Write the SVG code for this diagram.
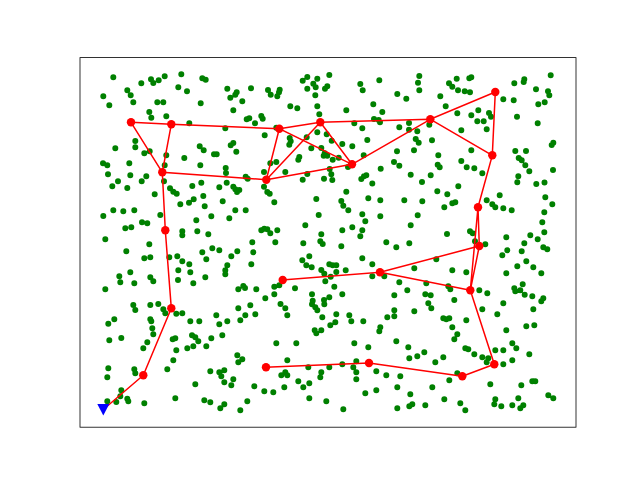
<svg xmlns="http://www.w3.org/2000/svg" width="640" height="480" viewBox="0 0 640 480">
<style>
.dots{fill:none;stroke:#008000;stroke-width:6;stroke-linecap:round}
.edge{fill:none;stroke:#ff0000;stroke-width:1.5;stroke-linecap:square;stroke-linejoin:round}
.node{fill:#ff0000}
</style>
<rect x="0" y="0" width="640" height="480" fill="#ffffff"/>
<g id="scatter">
<path class="dots" d="M113.3 77.3h0M141.3 83.3h0M151 79.3h0M153.3 83h0M158.7 80.3h0M164.7 76.3h0M181.3 74.3h0M202.3 78.3h0M205.7 79.7h0M178.3 87.3h0M187 91.3h0M127.3 90.3h0M130.7 95.3h0M133.3 102.3h0M103.3 96.3h0M109.3 105.3h0M157.3 102.3h0M163.3 102.3h0M200.7 103.3h0M149.3 112h0M151.3 117.7h0M166.3 116.3h0M189.3 123.3h0M227.3 88.7h0M236.7 92.3h0M235.3 94.7h0M230.3 97.7h0M242.3 101.3h0M233.3 110.3h0M225.3 128.3h0M135.3 141h0M135.3 147.3h0M115.3 148.3h0M144.3 153.3h0M149.7 151.3h0M166.3 155.3h0M184.3 158h0M199.7 146.3h0M203.7 150.3h0M214 154.3h0M216.7 154.3h0M230.7 145.3h0M233.3 143h0M236.3 151.7h0M103 163.3h0M107.3 165.3h0M129.3 163.3h0M164.7 165.3h0M200.3 165.3h0M225.7 168h0M226 173h0M108 174.3h0M130.3 175.3h0M146.3 176.3h0M118 181.3h0M141.7 181.3h0M164 181.3h0M201.3 182.7h0M226.7 182.7h0M245.7 176.7h0M247.7 178.7h0M246.7 119.3h0"/>
<path class="dots" d="M329.3 75h0M307.3 77h0M302.7 80.7h0M313.3 83.7h0M315.7 87.3h0M307.3 88.7h0M327.3 86.3h0M325 88.7h0M317.3 78.7h0M360.3 84h0M362.7 90.3h0M379.3 80.3h0M251 88.3h0M268 90h0M270.7 94.7h0M277.3 96.3h0M279.7 89.7h0M279 92.3h0M315.3 95.3h0M397.3 94h0M406.3 98.7h0M290.3 106.3h0M297.3 108.3h0M317.3 106.3h0M319.3 114.3h0M346.3 110.3h0M373.3 104.3h0M382.3 112h0M249.3 118.3h0M255 123.3h0M261.3 116h0M262.7 118.7h0M354.3 123.3h0M362.3 128.3h0M374 119h0M378.7 120h0M380 122.3h0M399.3 127.3h0M409 123h0M409 129.7h0M276.3 127.7h0M264.7 135.3h0M289.7 138h0M290.7 141.3h0M289.3 144.7h0M306.7 137.3h0M317.3 132.3h0M326.7 134.3h0M331.7 140.7h0M321.3 148h0M367.3 140h0M352.3 146.3h0M342.3 144h0M311.3 148.3h0M324.7 153.3h0M323.7 155.7h0M327.3 155.7h0M332.7 159.7h0M338.7 157.7h0M299.3 157h0M298.3 159.7h0M270.3 163.3h0M276.3 162h0M363.7 155.3h0M348 167h0M397 151.3h0M394 162h0M399.3 165.7h0M380.7 168.7h0M285.3 172h0M264 172h0M307.3 174h0M302.7 179.7h0M324 178.7h0M329.7 169h0M331.3 174.3h0M332.3 180h0M361.3 179h0M364 176.3h0M366.3 175.3h0M372.3 183.5h0M410.7 174.7h0"/>
<path class="dots" d="M419.3 76h0M418 82.7h0M419.3 90.3h0M456.7 78.7h0M469.3 78.3h0M471.3 77.3h0M449 83.3h0M452.3 86.7h0M458 90.3h0M464.7 91.3h0M470 92.3h0M440.3 96.3h0M445.7 106.3h0M457.3 113.3h0M471.3 115.3h0M478.3 110.3h0M477.3 121.3h0M483.7 121.3h0M489 113h0M491 116.7h0M486.7 129.3h0M461.3 130.3h0M429.3 124.7h0M417.3 131.3h0M432 140.3h0M415.7 139h0M418.7 142.7h0M414 150.3h0M438.3 155.3h0M461.3 161h0M437.7 164.7h0M439.7 167.3h0M466.7 167.3h0M474.3 168.3h0M482.3 173.3h0M430.7 175.3h0M422 182h0M471.3 150.3h0M503.3 99.3h0M513.7 100.3h0M514.3 83.3h0M524.3 79.3h0M523.7 82h0M550.7 75.3h0M536 89.3h0M548 91.3h0M549.3 95.3h0M544.7 102.3h0M538.3 104.3h0M517 116.7h0M537.7 123.3h0M553.3 142.7h0M551.7 145h0M515.3 151h0M526 151h0M518.7 158h0M521.7 160.3h0M525.3 165.3h0M529.3 171.3h0M518.3 176.3h0M553 170h0M536.3 184h0M544.5 182.5h0"/>
<path class="dots" d="M112.3 186.3h0M127.3 188h0M154.7 194.3h0M170 188.3h0M173.3 191.7h0M176.7 193.7h0M192.3 186h0M203.3 196h0M219.3 187.3h0M233.3 186.7h0M235.3 189.3h0M237 192h0M239.3 190h0M180.3 204.3h0M189 202.7h0M193.7 199.3h0M204.7 206.3h0M222.7 201.3h0M235.3 210.3h0M229.3 218.3h0M245.7 210.3h0M103.3 216h0M113.3 210.3h0M123.3 211.3h0M134.3 210.3h0M160.3 215h0M142 222.3h0M147.3 223.3h0M125.3 228.3h0M131.3 227.3h0M182.3 231.3h0M182.3 235.3h0M197.3 231.3h0M208.3 234.3h0M196.3 220.3h0M211.3 216.3h0M105.3 239.3h0M149.3 244.3h0M126.3 251.3h0M144.3 258.3h0M150.3 257.3h0M169.3 257.3h0M177.3 256.3h0M182.3 261.3h0M189.3 264.3h0M202.3 252.3h0M206.3 259.3h0M212.3 248.3h0M219.3 250.3h0M237.3 251.3h0M231.3 256.3h0M227.3 265.3h0M225.3 270.3h0M225.3 274.3h0M178.3 270.3h0M190.3 272.3h0M205.3 277.3h0M119.3 276.3h0M120.3 282.3h0M130.3 272.3h0M134.3 283.3h0M150.3 277.3h0M153.3 281.3h0M178 280h0M193.3 283.3h0M105.3 289.3h0M238.3 289.3h0M243.3 286h0M245 288h0M133.3 305h0M150.3 305h0M158.3 304h0"/>
<path class="dots" d="M264 186.7h0M267.3 192h0M269.7 193.7h0M274.3 202.3h0M346.3 191.7h0M316.3 199h0M341.3 201h0M343.3 205.7h0M348.3 210.3h0M368.3 198.3h0M380.3 200.3h0M404.3 200.3h0M318.7 215h0M362.3 214.3h0M365.3 221.3h0M380.3 216.3h0M305.3 225.3h0M321.3 234.3h0M320.3 241.3h0M322.7 244h0M303.3 243.3h0M342.3 230.3h0M352.3 227.3h0M362.3 230.3h0M360.3 236.3h0M341.3 246.3h0M386.3 242.3h0M396.3 247.3h0M409.3 243.3h0M410.7 225.3h0M261.3 230.3h0M264.3 228.7h0M267.3 229.3h0M270.3 233.3h0M277.3 230.3h0M252.3 242.3h0M275.3 242.3h0M253.3 252.3h0M251.3 264.3h0M302.3 260.3h0M309.3 256.3h0M306.3 265.3h0M311.7 267.3h0M321.3 270h0M324.3 273.7h0M329.3 264.3h0M332.7 265.3h0M336.3 265.3h0M336.3 272h0M345.7 270.3h0M362.3 258.3h0M372.3 264.3h0M372.3 276.3h0M384.3 276.3h0M330.7 276.7h0M325.3 281.3h0M334.3 286.7h0M399.3 282.3h0M407.3 290.3h0M394.3 295.3h0M342.3 294.3h0M329.3 297.3h0M324 300h0M312 294.3h0M312.7 300.7h0M295 288.3h0M274.3 286.7h0M274.3 294.3h0M279.3 285.3h0M256.3 289.3h0M265.3 298.3h0"/>
<path class="dots" d="M458.3 186.3h0M437.3 191.3h0M447.3 194.3h0M422.3 201.3h0M444.3 207.3h0M452.3 203.3h0M455.3 202.3h0M417.7 215.3h0M447 234h0M470 231.3h0M472.7 233.3h0M475 241.3h0M485.3 244.3h0M436.3 259.3h0M414.3 268.3h0M452.3 270.3h0M466.3 272.3h0M486.7 200.3h0M492.3 204.3h0M495.3 207.3h0M499.7 195.3h0M503.3 208.3h0M511.7 210.3h0M517.3 182.3h0M545.3 197.3h0M552.3 204.3h0M544.3 212.3h0M542.3 222.3h0M544.3 232.3h0M530.3 235.3h0M537.7 239.3h0M524.3 243.3h0M543.3 247.3h0M547.3 249.3h0M506.3 237.3h0M507.3 250.3h0M502.3 255.3h0M521.7 251.3h0M526.3 261.3h0M517.3 266.3h0M533.3 267.3h0M506.3 273.3h0M541.3 273.3h0M522.7 284.3h0M520.3 290.3h0M514.3 288.3h0M515.3 291.3h0M524.7 294.7h0M532.3 296.3h0M543.3 298.3h0M541.3 301.3h0M479.3 290.3h0M487.3 293.3h0M426.3 283.3h0M425.3 294.3h0M430.7 295.3h0M448.3 286.3h0M450.3 289.3h0M454.3 300h0M428.3 303.3h0M503.3 303.3h0"/>
<path class="dots" d="M135.3 310h0M163.3 309.3h0M165.3 313.3h0M176.3 313.7h0M182.3 313.3h0M114.3 319.3h0M108.3 323.7h0M121.3 338h0M109.3 340.3h0M150.3 319.3h0M151.3 321.3h0M152.3 328.3h0M153.3 334.3h0M143.3 348.3h0M147.3 342.3h0M172.7 339.3h0M175.3 338.3h0M176.3 350.3h0M173.3 360.3h0M167.3 369.3h0M190.3 321.3h0M199.3 321.3h0M216.3 315.3h0M219.3 324.3h0M227.3 321.3h0M222.3 335.3h0M211.3 338.3h0M238.3 308.3h0M245.3 315.3h0M240.3 320.3h0M192 335.3h0M195.3 337.3h0M198.3 341.3h0M193.3 346.3h0M187.3 348.3h0M206.3 346.3h0M237.3 355.3h0M242.3 359.3h0M238.3 362.3h0M219.3 372.3h0M224.3 370.3h0M221.3 376.3h0M224.3 382.3h0M233.3 379.3h0M231.3 385.3h0M210.3 371.3h0M195.3 384.3h0M134.3 369.3h0M135.3 373.3h0M108.3 368.3h0M107.3 377.3h0M121.3 390.3h0M120.3 396.3h0M127.3 398.7h0M128.3 401.3h0M144.3 403.3h0M107.3 401.3h0M116.3 402h0M175.3 398.3h0M204.3 400.3h0M210.3 402.3h0M224.3 404.3h0M220.3 408.3h0M240.3 410.3h0M247.3 401.3h0"/>
<path class="dots" d="M250.3 305.3h0M255.3 314.3h0M280.5 304h0M285.3 308.3h0M287.3 315.3h0M312 304.3h0M315.3 307.3h0M317.3 310.3h0M324.3 304.3h0M322.3 317.3h0M336.3 314.3h0M330.3 325.3h0M335.3 322.3h0M349.3 315.3h0M351.3 321.3h0M363.3 321.3h0M387.3 317.3h0M394.3 316.3h0M394.3 310.3h0M314.7 330.3h0M316.3 333.3h0M321.3 330.3h0M380.3 327.3h0M379.3 331.3h0M276.3 343.3h0M296.3 343.3h0M354.3 343.3h0M368.3 347.3h0M396.3 341.3h0M408.3 347.3h0M409.3 358.3h0M287.3 360.3h0M308.3 367.3h0M329.3 367.3h0M342.3 364.3h0M353.3 367.3h0M356.3 361.3h0M356.3 372.3h0M376.3 371.3h0M386.3 375.3h0M400.3 376.3h0M356.3 379.3h0M321.3 372.3h0M320.3 377.3h0M281.3 375.3h0M285.3 372.3h0M287.3 375.3h0M298.3 381.3h0M303.3 387.3h0M309.3 383.3h0M284.3 387.3h0M254.3 386.3h0M264.3 391.3h0M273.3 392.3h0M309.3 398.3h0M326.3 401.3h0M343.3 409.3h0M365.3 393.3h0M376.3 390.3h0M397.3 387.3h0M397.3 408.3h0M410.3 394.3h0M409.3 406.3h0"/>
<path class="dots" d="M414.3 311.3h0M431.3 308.3h0M482.3 309.3h0M497.3 314.3h0M533.3 309.3h0M443.3 318.3h0M446.3 319.3h0M449.3 318.3h0M466.3 320.3h0M452.3 327.3h0M457.3 334.3h0M454.3 339.3h0M506.3 330.3h0M526.3 326.3h0M534.3 325.3h0M417.3 356.3h0M424.3 352.3h0M435.3 362.3h0M443.3 357.3h0M465.3 348.3h0M468.3 349.3h0M474.3 354.3h0M482.3 357.3h0M488.3 358.3h0M486.7 362.3h0M495.3 350.3h0M503.3 350.3h0M512.3 343.3h0M516.3 348.3h0M529.3 354.3h0M503.3 364.3h0M512.3 360.3h0M457.3 373.3h0M449.3 380.3h0M490.3 384.3h0M521.3 385.3h0M532.3 381.3h0M535.3 381.3h0M432.3 387.3h0M412.3 404.3h0M425.3 405.3h0M444.3 399.3h0M460.3 403.3h0M465.3 410.3h0M495.3 399.3h0M494.3 404.3h0M501.3 406.3h0M512.3 405.3h0M518.3 398.3h0M520.3 408.3h0M523.3 405.3h0M548.3 395.3h0M553.3 398.3h0"/>
</g>
<g id="connectors">
<path class="edge" d="M103.3 409.5L143.3 375.3L171.3 308.3L165.3 230.3L162.3 172.3L131 122.3L171.3 124.3L162.3 172.3"/>
<path class="edge" d="M171.3 124.3L279.3 128.7"/>
<path class="edge" d="M162.3 172.3L266.3 179.7L279.3 128.7L320.3 122.3L352 164.3L266.3 179.7L320.3 122.3"/>
<path class="edge" d="M279.3 128.7L352 164.3L430.3 119.3L320.3 122.3"/>
<path class="edge" d="M430.3 119.3L495.3 92L492.3 155.3L430.3 119.3"/>
<path class="edge" d="M492.3 155.3L478 207.3L479.3 246L470.3 290.3L478 207.3"/>
<path class="edge" d="M479.3 246L380 272.3L470.3 290.3L494.3 364.3L462.3 376.3L369 363L266 367.3"/>
<path class="edge" d="M380 272.3L282.7 280"/>
</g>
<g id="nodes">
<circle class="node" cx="131" cy="122.3" r="4.2"/>
<circle class="node" cx="171.3" cy="124.3" r="4.2"/>
<circle class="node" cx="162.3" cy="172.3" r="4.2"/>
<circle class="node" cx="165.3" cy="230.3" r="4.2"/>
<circle class="node" cx="171.3" cy="308.3" r="4.2"/>
<circle class="node" cx="143.3" cy="375.3" r="4.2"/>
<circle class="node" cx="266.3" cy="179.7" r="4.2"/>
<circle class="node" cx="279.3" cy="128.7" r="4.2"/>
<circle class="node" cx="320.3" cy="122.3" r="4.2"/>
<circle class="node" cx="352" cy="164.3" r="4.2"/>
<circle class="node" cx="430.3" cy="119.3" r="4.2"/>
<circle class="node" cx="495.3" cy="92" r="4.2"/>
<circle class="node" cx="492.3" cy="155.3" r="4.2"/>
<circle class="node" cx="478" cy="207.3" r="4.2"/>
<circle class="node" cx="479.3" cy="246" r="4.2"/>
<circle class="node" cx="470.3" cy="290.3" r="4.2"/>
<circle class="node" cx="380" cy="272.3" r="4.2"/>
<circle class="node" cx="282.7" cy="280" r="4.2"/>
<circle class="node" cx="494.3" cy="364.3" r="4.2"/>
<circle class="node" cx="462.3" cy="376.3" r="4.2"/>
<circle class="node" cx="369" cy="363" r="4.2"/>
<circle class="node" cx="266" cy="367.3" r="4.2"/>
</g>
<g id="start">
<polygon points="97.3,404 109.3,404 103.3,415.5" fill="#0000ff"/>
</g>
<g id="axes">
<rect x="80" y="57.6" width="496" height="369.6" fill="none" stroke="#000000" stroke-width="0.8"/>
</g>
</svg>
